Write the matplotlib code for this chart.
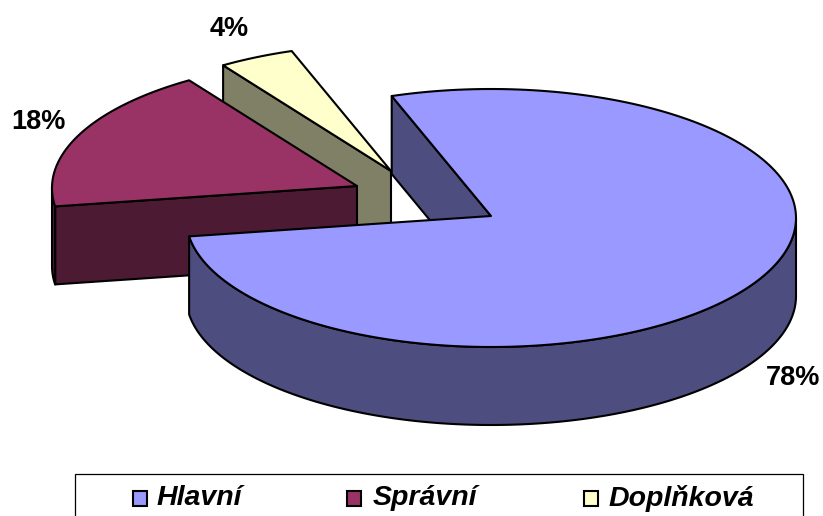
import numpy as np
import matplotlib
matplotlib.use("Agg")
import matplotlib.pyplot as plt
from matplotlib.patches import Polygon, Rectangle

categories = ["Hlavní", "Správní", "Doplňková"]
values = [78, 18, 4]
labels = ["78%", "18%", "4%"]
top_colors = ["#9999FF", "#993366", "#FFFFCC"]
side_colors = ["#4D4D80", "#4D1A33", "#808066"]
centers = [(491, 216), (357, 186), (391, 171)]

W, H = 823, 516
RX, RY, DEPTH, YOFF = 305, 129, 78, 2
START = 109.0

plt.rcParams["font.family"] = ["Liberation Sans", "DejaVu Sans"]
fig = plt.figure(figsize=(W / 100, H / 100), dpi=100)
ax = fig.add_axes([0, 0, 1, 1])
ax.set_xlim(0, W)
ax.set_ylim(H, 0)
ax.axis("off")

LW = 1.5
def poly(pts, fc):
    ax.add_patch(Polygon(pts, closed=True, fc=fc, ec="black", lw=LW, joinstyle="round"))

fr = np.array(values) / sum(values) * 360
ranges = []
a = START
for f in fr:
    ranges.append((a, a - f))
    a -= f

def arc(c, t0, t1, n=200):
    t = np.radians(np.linspace(t0, t1, n))
    return np.column_stack([c[0] + RX * np.cos(t), c[1] + YOFF - RY * np.sin(t)])

for i in [2, 1, 0]:
    c = np.array(centers[i], dtype=float)
    t0, t1 = ranges[i]
    d = np.array([0, DEPTH])
    p = arc(c, t0, t0, 1)[0]          # the leading radial cut faces the viewer
    poly([p, c, c + d, p + d], side_colors[i])
    lo, hi = min(t0, t1), max(t0, t1)
    for base in (-360, 0, 360):
        s, e = max(lo, base - 180), min(hi, base)
        if s < e:
            a_ = arc(c, s, e)
            poly(np.vstack([a_, (a_ + d)[::-1]]), side_colors[i])
    poly(np.vstack([[c], arc(c, t0, t1)]), top_colors[i])

label_pos = [(793, 378), (38, 122), (229, 29)]
for s, (x, y) in zip(labels, label_pos):
    ax.text(x, y, s, ha="center", va="center", fontsize=19.5, fontweight="bold", color="black")

ax.add_patch(Rectangle((75, 474), 728, 50, fc="white", ec="black", lw=0.9))
leg_sw = [133, 347, 584]
leg_tx = [157, 373, 609]
for name, col, sx, tx in zip(categories, top_colors, leg_sw, leg_tx):
    ax.add_patch(Rectangle((sx, 491), 14, 15, fc=col, ec="black", lw=1.5))
    ax.text(tx, 498, name, ha="left", va="center", fontsize=20.5, fontweight="bold",
            style="italic", color="black")

fig.savefig("out.png", dpi=100, facecolor="white")
